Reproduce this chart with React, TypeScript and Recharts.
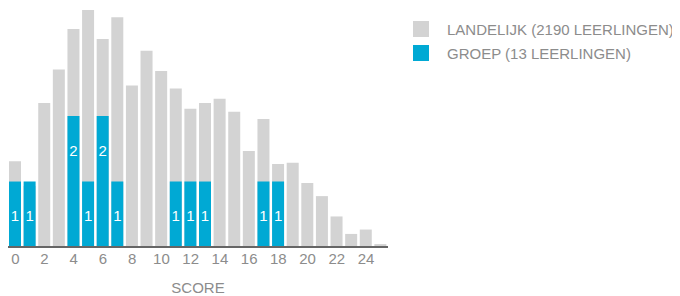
import React from 'react'
import { BarChart, Bar, XAxis, YAxis, Legend, LabelList } from 'recharts';

const scores = [0, 1, 2, 3, 4, 5, 6, 7, 8, 9, 10, 11, 12, 13, 14, 15, 16, 17, 18, 19, 20, 21, 22, 23, 24, 25];
const landelijk = [59, 42, 99, 122, 150, 163, 143, 158, 111, 135, 121, 109, 95, 99, 102, 93, 66, 88, 57, 58, 44, 35, 21, 9, 12, 2];
const groep = [1, 1, 0, 0, 2, 1, 2, 1, 0, 0, 0, 1, 1, 1, 0, 0, 0, 1, 1, 0, 0, 0, 0, 0, 0, 0];

const legendItems = [
  { label: 'LANDELIJK (2190 LEERLINGEN)', color: '#d3d3d3' },
  { label: 'GROEP (13 LEERLINGEN)', color: '#00a9d4' },
];

const GREY_TEXT = '#8c8c8c';

const CountLabel = (props: any) => {
  const { x, y, width, value } = props;
  if (!value) return null;
  return (
    <text
      x={x + width / 2}
      y={y + 34}
      fill="#ffffff"
      fontSize={15}
      textAnchor="middle"
      dominantBaseline="central"
    >
      {value}
    </text>
  );
};

const LegendBox = () => (
  <div>
    {legendItems.map((item) => (
      <div key={item.label} style={{ display: 'flex', alignItems: 'center', height: 24 }}>
        <span style={{ width: 16, height: 16, background: item.color, marginRight: 18 }} />
        <span style={{ color: GREY_TEXT, fontSize: 15 }}>{item.label}</span>
      </div>
    ))}
  </div>
);

export default function App() {
  const data = scores.map((s, i) => ({
    score: s,
    landelijk: landelijk[i],
    groep: groep[i],
  }));

  return (
    <div style={{ fontFamily: 'Arial, "Liberation Sans", sans-serif' }}>
      <BarChart
        width={664}
        height={288}
        data={data}
        margin={{ top: 2, right: 284, left: 0, bottom: 0 }}
        barSize={12}
        barGap={-12}
      >
        <XAxis
          dataKey="score"
          interval={1}
          tickLine={false}
          tickSize={0}
          tickMargin={6}
          height={49}
          axisLine={{ stroke: '#666666', strokeWidth: 2 }}
          tick={{ fill: GREY_TEXT, fontSize: 15 }}
          label={{ value: 'SCORE', position: 'insideBottom', offset: 3, fill: GREY_TEXT, fontSize: 15 }}
        />
        <YAxis yAxisId="land" hide domain={[0, 163]} />
        <YAxis yAxisId="groep" hide domain={[0, 3.62]} />
        <Legend
          layout="vertical"
          align="center"
          verticalAlign="middle"
          content={<LegendBox />}
          wrapperStyle={{ left: 405, top: 9, width: 270 }}
        />
        <Bar yAxisId="land" dataKey="landelijk" fill="#d3d3d3" isAnimationActive={false} />
        <Bar yAxisId="groep" dataKey="groep" fill="#00a9d4" isAnimationActive={false}>
          <LabelList dataKey="groep" content={<CountLabel />} />
        </Bar>
      </BarChart>
    </div>
  );
}
